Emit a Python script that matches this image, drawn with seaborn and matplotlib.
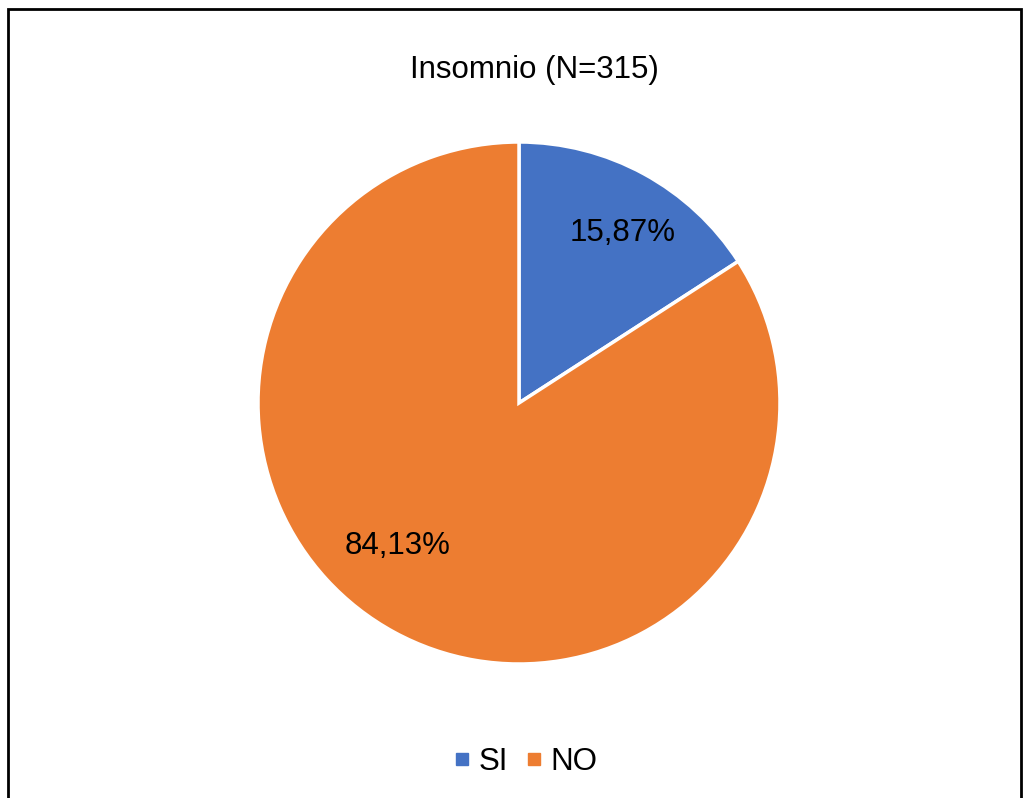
import matplotlib
matplotlib.use("Agg")
import matplotlib.pyplot as plt
import seaborn as sns
from matplotlib.patches import Rectangle
from matplotlib.lines import Line2D

# datos
categorias = ["SI", "NO"]
porcentajes = [15.87, 84.13]
colores = ["#4472C4", "#ED7D31"]
titulo = "Insomnio (N=315)"

sns.set_theme(style="white")
plt.rcParams['font.family'] = ['Liberation Sans', 'DejaVu Sans']
plt.rcParams['text.color'] = 'black'

fig = plt.figure(figsize=(10.24, 7.98), dpi=100)
# pie centrado en (519, 403) px, radio ~260 px
ax = fig.add_axes([(519 - 261) / 1024, 1 - (403 + 261) / 798, 522 / 1024, 522 / 798])

wedges, textos, autotextos = ax.pie(
    porcentajes, colors=colores, startangle=90, counterclock=False,
    autopct=lambda p: f"{p:.2f}%".replace(".", ","), pctdistance=0.77,
    wedgeprops=dict(edgecolor="white", linewidth=2.5),
    textprops=dict(fontsize=22.5, color="black"))
ax.set_xlim(-1.0, 1.0)
ax.set_ylim(-1.0, 1.0)
ax.set_aspect("equal")

# posiciones de etiquetas como en Excel
autotextos[0].set_position((0.396, 0.652))
autotextos[1].set_position((-0.465, -0.546))

fig.text(534 / 1024, 1 - 70 / 798, titulo, ha="center", va="center",
         fontsize=22.5, color="black")

# leyenda con cuadraditos
marcas = [Line2D([], [], linestyle="none", marker="s", markersize=9,
                 markerfacecolor=c, markeredgecolor=c) for c in colores]
leg = fig.legend(marcas, categorias, loc="center", bbox_to_anchor=(526 / 1024, 1 - 762 / 798),
                 ncol=2, frameon=False, fontsize=22.5, handlelength=0.45,
                 handletextpad=0.3, columnspacing=0.6)
for t in leg.get_texts():
    t.set_color("black")

# marco del grafico
fig.patches.append(Rectangle((8 / 1024, -0.01), 1013 / 1024, 1 - 9 / 798 + 0.01,
                             transform=fig.transFigure, fill=False,
                             edgecolor="black", linewidth=2))

fig.savefig("out.png", dpi=100)
